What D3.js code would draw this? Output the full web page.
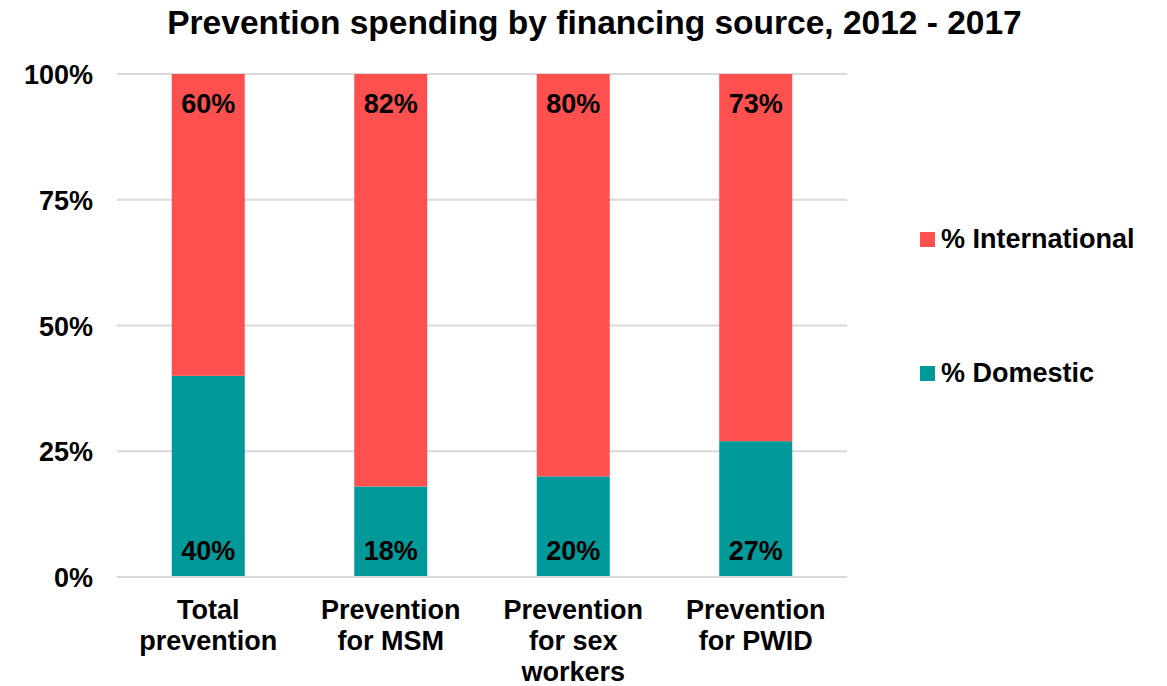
<!DOCTYPE html>
<html>
<head>
<meta charset="utf-8">
<script src="https://cdn.jsdelivr.net/npm/d3@7"></script>
<style>
  html, body { margin: 0; padding: 0; background: #fff; }
  text { font-family: "Liberation Sans", Arial, sans-serif; font-weight: bold; fill: #000; }
</style>
</head>
<body>
<svg id="chart" width="1167" height="686"></svg>
<script>
const categories = [
  ["Total", "prevention"],
  ["Prevention", "for MSM"],
  ["Prevention", "for sex", "workers"],
  ["Prevention", "for PWID"]
];
const domestic = [40, 18, 20, 27];
const international = [60, 82, 80, 73];
const seriesNames = ["% International", "% Domestic"];
const seriesColors = ["#FF5050", "#009999"];
const yTicks = [0, 25, 50, 75, 100];
const title = "Prevention spending by financing source, 2012 - 2017";

const svg = d3.select("#chart");
const margin = { left: 117, right: 320, top: 74, bottom: 109 };
const W = 1167, H = 686;
const x = d3.scaleBand().domain(d3.range(categories.length)).range([margin.left, W - margin.right]).paddingInner(0.6).paddingOuter(0.3);
const y = d3.scaleLinear().domain([0, 100]).range([H - margin.bottom, margin.top]);

svg.append("text").attr("x", 594.5).attr("y", 34).attr("text-anchor", "middle")
  .style("font-size", "33.5px").text(title);

// gridlines
svg.append("g").selectAll("line").data(yTicks).join("line")
  .attr("x1", margin.left).attr("x2", W - margin.right)
  .attr("y1", d => y(d)).attr("y2", d => y(d))
  .attr("stroke", "#d9d9d9").attr("stroke-width", 2);

// y axis labels
const yAxis = d3.axisLeft(y).tickValues(yTicks).tickFormat(d => d + "%").tickSize(0).tickPadding(24);
const ya = svg.append("g").attr("transform", `translate(${margin.left},0)`).call(yAxis);
ya.select(".domain").remove();
ya.selectAll("text").style("font-size", "27px").style("font-family", "'Liberation Sans', Arial, sans-serif").style("font-weight", "bold").attr("fill", "#000").attr("dy", "0.36em");

const data = categories.map((c, i) => ({ i, dom: domestic[i], intl: international[i] }));

// bars
const g = svg.append("g");
g.selectAll("rect.dom").data(data).join("rect").attr("class", "dom")
  .attr("x", d => x(d.i)).attr("width", x.bandwidth())
  .attr("y", d => y(d.dom)).attr("height", d => y(0) - y(d.dom))
  .attr("fill", seriesColors[1]);
g.selectAll("rect.intl").data(data).join("rect").attr("class", "intl")
  .attr("x", d => x(d.i)).attr("width", x.bandwidth())
  .attr("y", d => y(d.dom + d.intl)).attr("height", d => y(d.dom) - y(d.dom + d.intl))
  .attr("fill", seriesColors[0]);

// axis line over bars
svg.append("line").attr("x1", margin.left).attr("x2", W - margin.right)
  .attr("y1", y(0)).attr("y2", y(0)).attr("stroke", "#d9d9d9").attr("stroke-width", 2);

// labels
g.selectAll("text.dl").data(data).join("text").attr("class", "dl")
  .attr("x", d => x(d.i) + x.bandwidth() / 2).attr("y", d => y(0) - 17)
  .attr("text-anchor", "middle").style("font-size", "27px").text(d => d.dom + "%");
g.selectAll("text.il").data(data).join("text").attr("class", "il")
  .attr("x", d => x(d.i) + x.bandwidth() / 2).attr("y", d => y(d.dom + d.intl) + 39)
  .attr("text-anchor", "middle").style("font-size", "27px").text(d => d.intl + "%");

// category labels
const cl = svg.append("g").selectAll("text").data(categories).join("text")
  .attr("text-anchor", "middle").style("font-size", "27px")
  .attr("x", (d, i) => x(i) + x.bandwidth() / 2).attr("y", 619);
cl.selectAll("tspan").data(d => d).join("tspan")
  .attr("x", function() { return d3.select(this.parentNode).attr("x"); })
  .attr("dy", (d, j) => j === 0 ? 0 : 31).text(d => d);

// legend
const legY = [248, 382];
const lg = svg.append("g").selectAll("g").data(seriesNames).join("g")
  .attr("transform", (d, i) => `translate(920,${legY[i]})`);
lg.append("rect").attr("x", 0).attr("y", -16).attr("width", 15).attr("height", 15)
  .attr("fill", (d, i) => seriesColors[i]);
lg.append("text").attr("x", 21).attr("y", 0).style("font-size", "27px").text(d => d);
</script>
</body>
</html>
